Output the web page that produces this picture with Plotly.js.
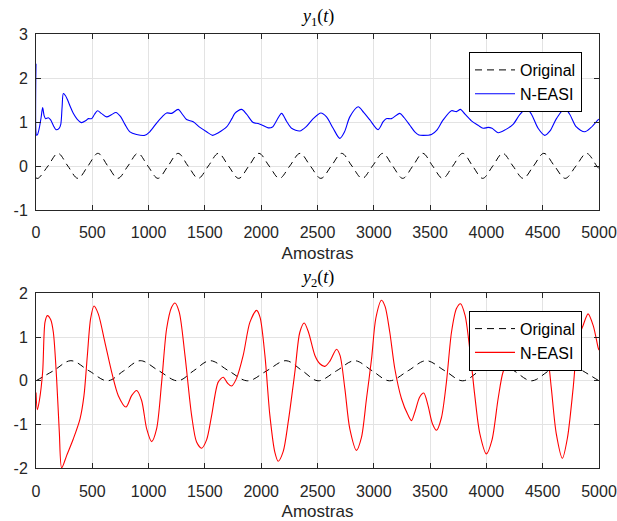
<!DOCTYPE html>
<html>
<head>
<meta charset="utf-8">
<script src="https://cdn.plot.ly/plotly-3.0.1.min.js"></script>
<style>html,body{margin:0;padding:0;background:#fff;}#chart{width:617px;height:521px;}</style>
</head>
<body>
<div id="chart"></div>
<script>
// ---- data ----
const seriesNames = ["Original", "N-EASI"];
const xTickVals = [0,500,1000,1500,2000,2500,3000,3500,4000,4500,5000];
const xTickText = ["0","500","1000","1500","2000","2500","3000","3500","4000","4500","5000"];
const yTopTicks = [-1,0,1,2,3];
const yTopText = ["-1","0","1","2","3"];
const yBotTicks = [-2,-1,0,1,2];
const yBotText = ["-2","-1","0","1","2"];

const x1Orig = [0,18,106,195,283,372,461,550,638,727,816,905,994,1083,1172,1262,1351,1441,1530,1620,1710,1800,1890,1980,2071,2162,2253,2345,2437,2530,2622,2715,2806,2897,2988,3080,3168,3257,3346,3435,3523,3612,3701,3790,3878,3967,4056,4145,4236,4327,4418,4510,4605,4700,4795,4890,4980,5000];
const y1Orig = [-0.27,-0.28,0,0.29,0,-0.28,0,0.29,0,-0.28,0,0.29,0,-0.28,0,0.29,0,-0.28,0,0.29,0,-0.28,0,0.29,0,-0.28,0,0.29,0,-0.28,0,0.29,0,-0.28,0,0.29,0,-0.28,0,0.29,0,-0.28,0,0.29,0,-0.28,0,0.29,0,-0.28,0,0.29,0,-0.28,0,0.29,0,-0.06];

const x1Easi = [0,6,14,28,45,59,72,85,109,130,155,178,205,220,232,243,262,278,305,331,365,405,440,465,494,520,547,580,627,670,710,750,790,834,893,967,1010,1071,1120,1160,1204,1263,1300,1337,1396,1456,1515,1568,1620,1693,1740,1766,1826,1870,1929,1973,2010,2062,2100,2140,2181,2225,2270,2343,2400,2462,2530,2580,2639,2698,2740,2787,2861,2910,2965,3038,3083,3110,3157,3231,3270,3320,3364,3400,3438,3512,3560,3616,3690,3734,3770,3810,3867,3926,3971,4015,4050,4104,4170,4237,4296,4356,4400,4459,4518,4565,4622,4696,4740,4799,4873,4930,4991,5000];
const y1Easi = [2.33,0.70,0.72,0.85,1.10,1.33,1.15,1.08,1.10,1.05,0.92,0.83,0.86,0.95,1.35,1.65,1.60,1.52,1.35,1.20,1.07,0.99,1.03,1.08,1.08,1.18,1.26,1.20,1.12,1.17,1.22,1.13,0.95,0.78,0.72,0.70,0.78,0.98,1.12,1.21,1.20,1.29,1.18,1.06,1.01,0.88,0.78,0.70,0.76,0.89,1.08,1.20,1.29,1.18,0.99,0.97,0.93,0.87,0.89,1.05,1.20,1.02,0.86,0.80,0.90,1.08,1.21,1.12,0.86,0.63,0.78,1.12,1.35,1.22,1.05,0.83,1.01,1.08,1.08,1.20,1.10,0.93,0.78,0.71,0.70,0.72,0.82,1.05,1.26,1.24,1.29,1.18,1.03,0.93,0.86,0.88,0.86,0.76,0.83,0.95,1.17,1.31,1.18,0.86,0.70,0.80,1.08,1.31,1.18,0.89,0.78,0.88,1.05,1.07];

const x2Orig = [0,155,310,470,635,780,925,1090,1260,1400,1545,1710,1880,2050,2220,2365,2505,2670,2830,2985,3140,3305,3465,3630,3790,3940,4090,4245,4400,4555,4710,4855,5000];
const y2Orig = [0,0.23,0.46,0.23,0,0.23,0.46,0.23,0,0.23,0.46,0.23,0,0.23,0.46,0.23,0,0.23,0.46,0.23,0,0.23,0.46,0.23,0,0.23,0.46,0.23,0,0.23,0.46,0.23,0];

const x2Easi = [0,12,30,59,80,101,130,154,183,207,228,272,331,391,426,456,485,515,553,612,672,731,799,849,894,938,983,1027,1071,1116,1160,1204,1234,1272,1323,1382,1426,1471,1515,1560,1618,1663,1700,1737,1780,1840,1900,1959,1990,2033,2077,2121,2151,2195,2240,2299,2343,2382,2420,2477,2521,2565,2610,2669,2700,2743,2787,2846,2890,2935,2980,3018,3068,3100,3142,3187,3246,3305,3335,3364,3408,3444,3480,3521,3557,3600,3645,3690,3734,3770,3810,3852,3897,3941,4000,4050,4104,4148,4187,4240,4296,4340,4370,4460,4548,4577,4620,4675,4720,4770,4814,4858,4903,4950,4991,5000];
const y2Easi = [-0.27,-0.66,-0.45,0.20,1.34,1.49,1.40,1.11,0.05,-1.17,-1.99,-1.71,-1.33,-0.87,-0.34,0.58,1.42,1.71,1.53,0.88,0.20,-0.34,-0.60,-0.34,-0.22,-0.45,-1.10,-1.39,-1.10,-0.03,1.19,1.68,1.78,1.57,0.58,-0.79,-1.40,-1.54,-1.35,-0.79,-0.03,0.08,-0.05,-0.12,0.05,0.58,1.34,1.61,1.45,0.58,-0.79,-1.63,-1.84,-1.62,-0.94,0.20,1.11,1.32,1.11,0.58,0.39,0.33,0.45,0.72,0.58,-0.18,-1.10,-1.59,-1.30,-0.41,0.50,1.43,1.84,1.70,1.11,0.27,-0.41,-0.79,-0.91,-0.72,-0.37,-0.28,-0.55,-0.98,-1.13,-0.85,-0.03,1.11,1.65,1.76,1.50,0.73,-0.34,-1.20,-1.67,-1.35,-0.41,0.20,0.39,0.28,0.24,0.44,0.68,1.30,0.46,-0.18,-1.20,-1.77,-1.30,-0.18,0.96,1.26,1.53,1.25,0.77,0.70];

// ---- styling ----
const W = 617, H = 521;
const axCol = '#262626';
const sans = 'Liberation Sans, Arial, sans-serif';
const serif = 'Liberation Serif, DejaVu Serif, serif';
const dashStyle = '7px,5px';

function xAxis(anchor) {
  return {
    anchor: anchor, domain: [36/W, 599/W], range: [0, 5000],
    tickmode: 'array', tickvals: xTickVals, ticktext: xTickText,
    ticks: 'inside', ticklen: 5, tickcolor: axCol, ticklabelstandoff: 8,
    showline: true, linecolor: axCol, linewidth: 1, mirror: 'ticks',
    showgrid: true, gridcolor: '#e3e3e3', gridwidth: 1, zeroline: false,
    tickfont: {family: sans, size: 16, color: axCol},
    title: {text: 'Amostras', font: {family: sans, size: 17, color: axCol}, standoff: 6},
    automargin: false
  };
}
function yAxis(anchor, dom, rng, tv, tt) {
  return {
    anchor: anchor, domain: dom, range: rng, tickmode: 'array', tickvals: tv, ticktext: tt,
    ticks: 'inside', ticklen: 5, tickcolor: axCol, ticklabelstandoff: 4,
    showline: true, linecolor: axCol, linewidth: 1, mirror: 'ticks',
    showgrid: true, gridcolor: '#e3e3e3', gridwidth: 1, zeroline: false,
    tickfont: {family: sans, size: 16, color: axCol}, automargin: false
  };
}

const traces = [
  {x: x1Orig, y: y1Orig, name: seriesNames[0], mode: 'lines', xaxis: 'x', yaxis: 'y', legend: 'legend',
   line: {color: '#000', width: 1, dash: dashStyle, shape: 'spline', smoothing: 1}},
  {x: x1Easi, y: y1Easi, name: seriesNames[1], mode: 'lines', xaxis: 'x', yaxis: 'y', legend: 'legend',
   line: {color: '#0000ff', width: 1.1, shape: 'spline', smoothing: 0.8}},
  {x: x2Orig, y: y2Orig, name: seriesNames[0], mode: 'lines', xaxis: 'x2', yaxis: 'y2', legend: 'legend2',
   line: {color: '#000', width: 1, dash: dashStyle, shape: 'spline', smoothing: 1}},
  {x: x2Easi, y: y2Easi, name: seriesNames[1], mode: 'lines', xaxis: 'x2', yaxis: 'y2', legend: 'legend2',
   line: {color: '#ff0000', width: 1.1, shape: 'spline', smoothing: 0.8}}
];

const legendStyle = (ytop) => ({
  x: 582/W, xanchor: 'right', y: 1 - ytop/H, yanchor: 'top',
  bgcolor: '#ffffff', bordercolor: '#000', borderwidth: 1,
  font: {family: sans, size: 16, color: '#000'}, itemwidth: 40,
  tracegroupgap: 0
});

const layout = {
  width: W, height: H,
  margin: {l: 0, r: 0, t: 0, b: 0},
  paper_bgcolor: '#fff', plot_bgcolor: '#fff',
  showlegend: true,
  xaxis: xAxis('y'),
  yaxis: yAxis('x', [1 - 210/H, 1 - 34.3/H], [-1, 3], yTopTicks, yTopText),
  xaxis2: xAxis('y2'),
  yaxis2: yAxis('x2', [1 - 468.3/H, 1 - 293.3/H], [-2, 2], yBotTicks, yBotText),
  legend: legendStyle(52),
  legend2: legendStyle(310.7),
  annotations: [
    {text: '<i>y</i><sub>1</sub>(<i>t</i>)', xref: 'paper', yref: 'paper', x: 317/W, y: 1 - 18/H,
     xanchor: 'center', yanchor: 'middle', showarrow: false, font: {family: serif, size: 18, color: '#000'}},
    {text: '<i>y</i><sub>2</sub>(<i>t</i>)', xref: 'paper', yref: 'paper', x: 317/W, y: 1 - 278/H,
     xanchor: 'center', yanchor: 'middle', showarrow: false, font: {family: serif, size: 18, color: '#000'}}
  ]
};

Plotly.newPlot('chart', traces, layout, {displayModeBar: false, staticPlot: true});
</script>
</body>
</html>
